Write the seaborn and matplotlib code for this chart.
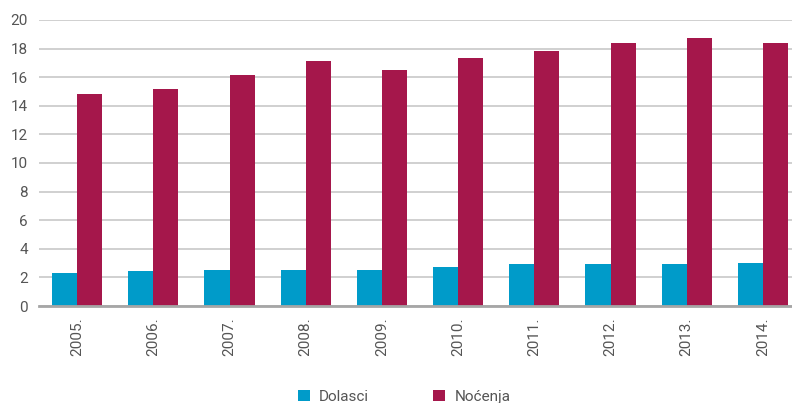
import pandas as pd
import numpy as np
import matplotlib
matplotlib.use("Agg")
import matplotlib.pyplot as plt
import seaborn as sns
from matplotlib.ticker import FixedLocator

# data (millions)
years = ['2005.', '2006.', '2007.', '2008.', '2009.', '2010.', '2011.', '2012.', '2013.', '2014.']
dolasci = [2.3, 2.45, 2.52, 2.5, 2.5, 2.73, 2.94, 2.94, 2.94, 3.0]
nocenja = [14.83, 15.17, 16.15, 17.13, 16.5, 17.34, 17.83, 18.39, 18.74, 18.39]

df = pd.DataFrame({
    'year': years * 2,
    'value': dolasci + nocenja,
    'series': ['Dolasci'] * len(years) + ['Noćenja'] * len(years),
})

sns.set_style('white')
plt.rcParams['font.family'] = ['Roboto', 'DejaVu Sans']
text_col = '#555555'

fig = plt.figure(figsize=(7.92, 4.03), dpi=100)
# the plot area runs a little past the right edge of the image, as in the original
ax = fig.add_axes([39 / 792, 1 - 306 / 403, 762 / 792, 286 / 403])

palette = {'Dolasci': '#009BC9', 'Noćenja': '#A5174B'}
sns.barplot(data=df, x='year', y='value', hue='series', palette=palette,
            width=0.66, gap=0, saturation=1, linewidth=0, ax=ax, legend=True)

ax.set_xlim(-0.5, len(years) - 0.5)
ax.set_ylim(0, 20)
ax.set_yticks(range(0, 21, 2))
ax.yaxis.grid(True, color='#c8c8c8', linewidth=1.2)
ax.set_axisbelow(True)
ax.set_xlabel('')
ax.set_ylabel('')

for s in ['top', 'right', 'left']:
    ax.spines[s].set_visible(False)
ax.spines['bottom'].set_color('#a6a6a6')
ax.spines['bottom'].set_linewidth(2)

ax.tick_params(axis='y', length=0, labelsize=11, labelcolor=text_col, pad=8)
ax.tick_params(axis='x', which='major', length=0, labelsize=11, labelcolor=text_col,
               rotation=90, pad=8)
ax.xaxis.set_minor_locator(FixedLocator(np.arange(-0.5, len(years), 1)))
ax.tick_params(axis='x', which='minor', length=4, width=1.5, color='#a6a6a6')

handles, labels = ax.get_legend_handles_labels()
leg_x = (404 - 39) / 762
ax.legend(handles, labels, loc='lower center', bbox_to_anchor=(leg_x, -0.39),
          ncol=2, frameon=False, fontsize=11, handlelength=0.8, handleheight=0.8,
          columnspacing=4.2, handletextpad=0.6, labelcolor=text_col)

fig.savefig('out.png', dpi=100)
